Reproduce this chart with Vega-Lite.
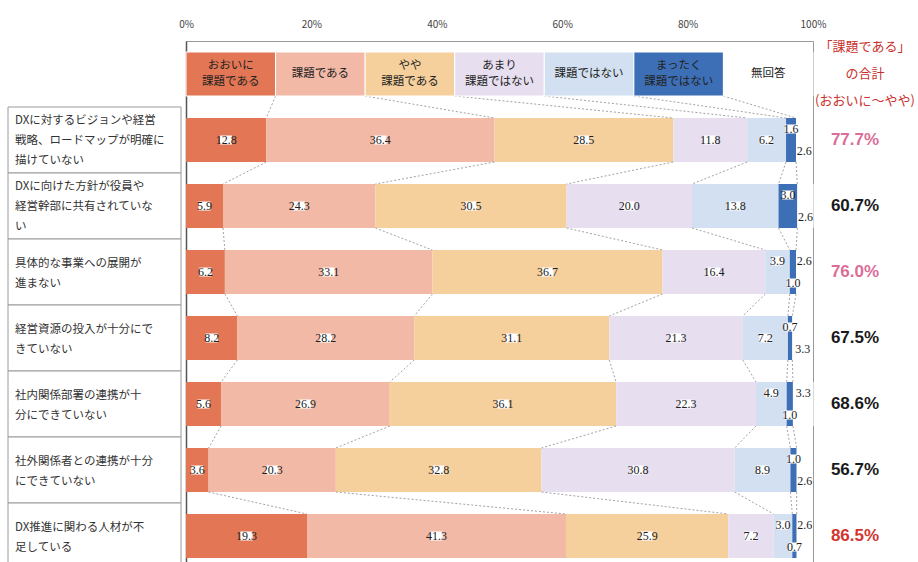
{
  "$schema": "https://vega.github.io/schema/vega-lite/v6.json",
  "padding": {"left": 7, "top": 18, "right": 27, "bottom": 0},
  "background": "white",
  "bounds": "flush",
  "spacing": 5,
  "resolve": {"scale": {"color": "independent"}},
  "config": {"font": "Noto Sans CJK JP", "view": {"stroke": null}},
  "datasets": {
    "segs": [
      {"seg": "おおいに課題である", "label": "おおいに\n課題である"},
      {"seg": "課題である", "label": "課題である"},
      {"seg": "やや課題である", "label": "やや\n課題である"},
      {"seg": "あまり課題ではない", "label": "あまり\n課題ではない"},
      {"seg": "課題ではない", "label": "課題ではない"},
      {"seg": "まったく課題ではない", "label": "まったく\n課題ではない"},
      {"seg": "無回答", "label": "無回答"}
    ],
    "rows": [
      {"cat": "DXに対するビジョンや経営\n戦略、ロードマップが明確に\n描けていない", "total": 0.777},
      {"cat": "DXに向けた方針が役員や\n経営幹部に共有されていな\nい", "total": 0.607},
      {"cat": "具体的な事業への展開が\n進まない", "total": 0.760},
      {"cat": "経営資源の投入が十分にで\nきていない", "total": 0.675},
      {"cat": "社内関係部署の連携が十\n分にできていない", "total": 0.686},
      {"cat": "社外関係者との連携が十分\nにできていない", "total": 0.567},
      {"cat": "DX推進に関わる人材が不\n足している", "total": 0.865}
    ],
    "bars": [
      {"cat": "DXに対するビジョンや経営\n戦略、ロードマップが明確に\n描けていない", "seg": "おおいに課題である", "value": 12.8},
      {"cat": "DXに対するビジョンや経営\n戦略、ロードマップが明確に\n描けていない", "seg": "課題である", "value": 36.4},
      {"cat": "DXに対するビジョンや経営\n戦略、ロードマップが明確に\n描けていない", "seg": "やや課題である", "value": 28.5},
      {"cat": "DXに対するビジョンや経営\n戦略、ロードマップが明確に\n描けていない", "seg": "あまり課題ではない", "value": 11.8},
      {"cat": "DXに対するビジョンや経営\n戦略、ロードマップが明確に\n描けていない", "seg": "課題ではない", "value": 6.2},
      {"cat": "DXに対するビジョンや経営\n戦略、ロードマップが明確に\n描けていない", "seg": "まったく課題ではない", "value": 1.6},
      {"cat": "DXに対するビジョンや経営\n戦略、ロードマップが明確に\n描けていない", "seg": "無回答", "value": 2.6},
      {"cat": "DXに向けた方針が役員や\n経営幹部に共有されていな\nい", "seg": "おおいに課題である", "value": 5.9},
      {"cat": "DXに向けた方針が役員や\n経営幹部に共有されていな\nい", "seg": "課題である", "value": 24.3},
      {"cat": "DXに向けた方針が役員や\n経営幹部に共有されていな\nい", "seg": "やや課題である", "value": 30.5},
      {"cat": "DXに向けた方針が役員や\n経営幹部に共有されていな\nい", "seg": "あまり課題ではない", "value": 20.0},
      {"cat": "DXに向けた方針が役員や\n経営幹部に共有されていな\nい", "seg": "課題ではない", "value": 13.8},
      {"cat": "DXに向けた方針が役員や\n経営幹部に共有されていな\nい", "seg": "まったく課題ではない", "value": 3.0},
      {"cat": "DXに向けた方針が役員や\n経営幹部に共有されていな\nい", "seg": "無回答", "value": 2.6},
      {"cat": "具体的な事業への展開が\n進まない", "seg": "おおいに課題である", "value": 6.2},
      {"cat": "具体的な事業への展開が\n進まない", "seg": "課題である", "value": 33.1},
      {"cat": "具体的な事業への展開が\n進まない", "seg": "やや課題である", "value": 36.7},
      {"cat": "具体的な事業への展開が\n進まない", "seg": "あまり課題ではない", "value": 16.4},
      {"cat": "具体的な事業への展開が\n進まない", "seg": "課題ではない", "value": 3.9},
      {"cat": "具体的な事業への展開が\n進まない", "seg": "まったく課題ではない", "value": 1.0},
      {"cat": "具体的な事業への展開が\n進まない", "seg": "無回答", "value": 2.6},
      {"cat": "経営資源の投入が十分にで\nきていない", "seg": "おおいに課題である", "value": 8.2},
      {"cat": "経営資源の投入が十分にで\nきていない", "seg": "課題である", "value": 28.2},
      {"cat": "経営資源の投入が十分にで\nきていない", "seg": "やや課題である", "value": 31.1},
      {"cat": "経営資源の投入が十分にで\nきていない", "seg": "あまり課題ではない", "value": 21.3},
      {"cat": "経営資源の投入が十分にで\nきていない", "seg": "課題ではない", "value": 7.2},
      {"cat": "経営資源の投入が十分にで\nきていない", "seg": "まったく課題ではない", "value": 0.7},
      {"cat": "経営資源の投入が十分にで\nきていない", "seg": "無回答", "value": 3.3},
      {"cat": "社内関係部署の連携が十\n分にできていない", "seg": "おおいに課題である", "value": 5.6},
      {"cat": "社内関係部署の連携が十\n分にできていない", "seg": "課題である", "value": 26.9},
      {"cat": "社内関係部署の連携が十\n分にできていない", "seg": "やや課題である", "value": 36.1},
      {"cat": "社内関係部署の連携が十\n分にできていない", "seg": "あまり課題ではない", "value": 22.3},
      {"cat": "社内関係部署の連携が十\n分にできていない", "seg": "課題ではない", "value": 4.9},
      {"cat": "社内関係部署の連携が十\n分にできていない", "seg": "まったく課題ではない", "value": 1.0},
      {"cat": "社内関係部署の連携が十\n分にできていない", "seg": "無回答", "value": 3.3},
      {"cat": "社外関係者との連携が十分\nにできていない", "seg": "おおいに課題である", "value": 3.6},
      {"cat": "社外関係者との連携が十分\nにできていない", "seg": "課題である", "value": 20.3},
      {"cat": "社外関係者との連携が十分\nにできていない", "seg": "やや課題である", "value": 32.8},
      {"cat": "社外関係者との連携が十分\nにできていない", "seg": "あまり課題ではない", "value": 30.8},
      {"cat": "社外関係者との連携が十分\nにできていない", "seg": "課題ではない", "value": 8.9},
      {"cat": "社外関係者との連携が十分\nにできていない", "seg": "まったく課題ではない", "value": 1.0},
      {"cat": "社外関係者との連携が十分\nにできていない", "seg": "無回答", "value": 2.6},
      {"cat": "DX推進に関わる人材が不\n足している", "seg": "おおいに課題である", "value": 19.3},
      {"cat": "DX推進に関わる人材が不\n足している", "seg": "課題である", "value": 41.3},
      {"cat": "DX推進に関わる人材が不\n足している", "seg": "やや課題である", "value": 25.9},
      {"cat": "DX推進に関わる人材が不\n足している", "seg": "あまり課題ではない", "value": 7.2},
      {"cat": "DX推進に関わる人材が不\n足している", "seg": "課題ではない", "value": 3.0},
      {"cat": "DX推進に関わる人材が不\n足している", "seg": "まったく課題ではない", "value": 0.7},
      {"cat": "DX推進に関わる人材が不\n足している", "seg": "無回答", "value": 2.6}
    ]
  },
  "hconcat": [
    {
      "width": 173,
      "height": 528,
      "data": {"name": "rows"},
      "layer": [
        {
          "mark": {"type": "rect", "fill": "white", "stroke": "#9a9a9a", "strokeWidth": 1},
          "encoding": {
            "y": {"field": "cat", "type": "nominal", "scale": {"domain": ["凡例", "DXに対するビジョンや経営\n戦略、ロードマップが明確に\n描けていない", "DXに向けた方針が役員や\n経営幹部に共有されていな\nい", "具体的な事業への展開が\n進まない", "経営資源の投入が十分にで\nきていない", "社内関係部署の連携が十\n分にできていない", "社外関係者との連携が十分\nにできていない", "DX推進に関わる人材が不\n足している"], "paddingInner": 0, "paddingOuter": 0}, "axis": null},
            "x": {"datum": 0, "type": "quantitative", "scale": {"domain": [0, 1], "nice": false}, "axis": null},
            "x2": {"datum": 1}
          }
        },
        {
          "transform": [{"filter": "split(datum.cat, '\\n').length == 3"}],
          "mark": {"type": "text", "align": "left", "baseline": "middle", "dx": 7, "dy": -19, "fontSize": 11.5, "lineHeight": 20, "lineBreak": "\n", "color": "#333333"},
          "encoding": {
            "y": {"field": "cat", "type": "nominal", "scale": {"domain": ["凡例", "DXに対するビジョンや経営\n戦略、ロードマップが明確に\n描けていない", "DXに向けた方針が役員や\n経営幹部に共有されていな\nい", "具体的な事業への展開が\n進まない", "経営資源の投入が十分にで\nきていない", "社内関係部署の連携が十\n分にできていない", "社外関係者との連携が十分\nにできていない", "DX推進に関わる人材が不\n足している"], "paddingInner": 0, "paddingOuter": 0}, "axis": null},
            "x": {"datum": 0, "type": "quantitative", "scale": {"domain": [0, 1], "nice": false}, "axis": null},
            "text": {"field": "cat"}
          }
        },
        {
          "transform": [{"filter": "split(datum.cat, '\\n').length == 2"}],
          "mark": {"type": "text", "align": "left", "baseline": "middle", "dx": 7, "dy": -8, "fontSize": 11.5, "lineHeight": 20, "lineBreak": "\n", "color": "#333333"},
          "encoding": {
            "y": {"field": "cat", "type": "nominal", "scale": {"domain": ["凡例", "DXに対するビジョンや経営\n戦略、ロードマップが明確に\n描けていない", "DXに向けた方針が役員や\n経営幹部に共有されていな\nい", "具体的な事業への展開が\n進まない", "経営資源の投入が十分にで\nきていない", "社内関係部署の連携が十\n分にできていない", "社外関係者との連携が十分\nにできていない", "DX推進に関わる人材が不\n足している"], "paddingInner": 0, "paddingOuter": 0}, "axis": null},
            "x": {"datum": 0, "type": "quantitative", "scale": {"domain": [0, 1], "nice": false}, "axis": null},
            "text": {"field": "cat"}
          }
        }
      ]
    },
    {
      "width": 627,
      "height": 528,
      "view": {"stroke": "#9a9a9a"},
      "encoding": {
        "y": {"field": "cat", "type": "nominal", "scale": {"domain": ["凡例", "DXに対するビジョンや経営\n戦略、ロードマップが明確に\n描けていない", "DXに向けた方針が役員や\n経営幹部に共有されていな\nい", "具体的な事業への展開が\n進まない", "経営資源の投入が十分にで\nきていない", "社内関係部署の連携が十\n分にできていない", "社外関係者との連携が十分\nにできていない", "DX推進に関わる人材が不\n足している"], "paddingInner": 0.3333, "paddingOuter": 0.1667}, "axis": {"title": null, "labels": false, "ticks": false, "domainColor": "#555555", "domainWidth": 1.5}}
      },
      "layer": [
        {
          "data": {"name": "bars"},
          "transform": [
            {"window": [{"op": "row_number", "as": "o"}], "groupby": ["cat"]},
            {"stack": "value", "groupby": ["cat"], "sort": [{"field": "o", "order": "ascending"}], "as": ["x0", "x1"]},
            {"window": [{"op": "lag", "field": "value", "param": 1, "as": "lag1"}, {"op": "lag", "field": "value", "param": 2, "as": "lag2"}], "groupby": ["cat"], "sort": [{"field": "o", "order": "ascending"}]},
            {"calculate": "(datum.x0 + datum.x1) / 2", "as": "mid"}
          ],
          "layer": [
            {
              "mark": {"type": "bar"},
              "encoding": {
                "x": {"field": "x0", "type": "quantitative", "scale": {"domain": [0, 100], "nice": false, "zero": false}, "axis": {"orient": "top", "values": [0, 20, 40, 60, 80, 100], "labelExpr": "datum.value + '%'", "grid": false, "ticks": false, "domain": false, "labelFlush": false, "labelFontSize": 10, "labelPadding": 12, "labelColor": "#444444", "title": null}},
                "x2": {"field": "x1"},
                "color": {"field": "seg", "type": "nominal", "scale": {"domain": ["おおいに課題である", "課題である", "やや課題である", "あまり課題ではない", "課題ではない", "まったく課題ではない", "無回答"], "range": ["#E27655", "#F2B9A6", "#F5CF9C", "#E7DFF0", "#D3E0F1", "#3D6FB6", "#FFFFFF"]}, "legend": null}
              }
            },
            {
              "transform": [
                {"filter": "datum.o <= 6"},
                {"window": [{"op": "lead", "field": "x1", "as": "nx"}, {"op": "lead", "field": "cat", "as": "ncat"}], "groupby": ["o"]},
                {"filter": "datum.ncat != null"}
              ],
              "mark": {"type": "rule", "stroke": "#8a8a8a", "strokeWidth": 0.8, "strokeDash": [2, 2]},
              "encoding": {
                "x": {"field": "x1", "type": "quantitative"},
                "x2": {"field": "nx"},
                "y": {"field": "cat", "type": "nominal", "bandPosition": 1},
                "y2": {"field": "ncat", "bandPosition": 0}
              }
            },
            {
              "transform": [
                {"filter": "datum.o <= 6"},
                {"window": [{"op": "row_number", "as": "ri"}], "groupby": ["o"]},
                {"filter": "datum.ri == 1"},
                {"calculate": "datum.o * 100 / 7", "as": "lx"}
              ],
              "mark": {"type": "rule", "stroke": "#8a8a8a", "strokeWidth": 0.8, "strokeDash": [2, 2]},
              "encoding": {
                "x": {"field": "lx", "type": "quantitative"},
                "x2": {"field": "x1"},
                "y": {"datum": "凡例", "type": "nominal", "bandPosition": 1},
                "y2": {"field": "cat", "bandPosition": 0}
              }
            },
            {
              "transform": [{"filter": "datum.o <= 4 || (datum.o == 5 && datum.value >= 5)"}],
              "encoding": {
                "x": {"field": "mid", "type": "quantitative"}
              },
              "layer": [
                {"mark": {"type": "point", "shape": "M-1.35,-1H1.35V1H-1.35Z", "size": 81, "filled": true, "color": "white", "opacity": 1, "strokeWidth": 0}},
                {"mark": {"type": "text", "fontSize": 12, "font": "Liberation Sans Narrow", "color": "#222222"}, "encoding": {"text": {"field": "value", "type": "quantitative", "format": ".1f"}}}
              ]
            },
            {
              "transform": [{"filter": "(datum.o == 5 && datum.value < 5) || (datum.o == 6 && datum.lag1 >= 5) || (datum.o == 7 && datum.lag2 < 5)"}],
              "encoding": {
                "x": {"field": "mid", "type": "quantitative"}
              },
              "layer": [
                {"mark": {"type": "point", "shape": "M-1.25,-1H1.25V1H-1.25Z", "size": 81, "filled": true, "color": "white", "opacity": 1, "strokeWidth": 0, "yOffset": -11}},
                {"mark": {"type": "text", "fontSize": 12, "font": "Liberation Sans Narrow", "color": "#222222", "yOffset": -11}, "encoding": {"text": {"field": "value", "type": "quantitative", "format": ".1f"}}}
              ]
            },
            {
              "transform": [{"filter": "(datum.o == 6 && datum.lag1 < 5) || (datum.o == 7 && datum.lag2 >= 5)"}],
              "encoding": {
                "x": {"field": "mid", "type": "quantitative"}
              },
              "layer": [
                {"mark": {"type": "point", "shape": "M-1.25,-1H1.25V1H-1.25Z", "size": 81, "filled": true, "color": "white", "opacity": 1, "strokeWidth": 0, "yOffset": 11}},
                {"mark": {"type": "text", "fontSize": 12, "font": "Liberation Sans Narrow", "color": "#222222", "yOffset": 11}, "encoding": {"text": {"field": "value", "type": "quantitative", "format": ".1f"}}}
              ]
            }
          ]
        },
        {
          "data": {"name": "segs"},
          "transform": [
            {"window": [{"op": "row_number", "as": "o"}]},
            {"calculate": "(datum.o - 1) * 100 / 7", "as": "lx0"},
            {"calculate": "datum.o * 100 / 7", "as": "lx1"},
            {"calculate": "(datum.o - 0.5) * 100 / 7", "as": "lxm"}
          ],
          "layer": [
            {
              "mark": {"type": "bar", "stroke": "white", "strokeWidth": 1},
              "encoding": {
                "x": {"field": "lx0", "type": "quantitative"},
                "x2": {"field": "lx1"},
                "y": {"datum": "凡例", "type": "nominal"},
                "color": {"field": "seg", "type": "nominal", "scale": {"domain": ["おおいに課題である", "課題である", "やや課題である", "あまり課題ではない", "課題ではない", "まったく課題ではない", "無回答"], "range": ["#E27655", "#F2B9A6", "#F5CF9C", "#E7DFF0", "#D3E0F1", "#3D6FB6", "#FFFFFF"]}, "legend": null}
              }
            },
            {
              "transform": [{"filter": "indexof(datum.label, '\\n') >= 0"}],
              "mark": {"type": "text", "fontSize": 11.5, "lineHeight": 16, "lineBreak": "\n", "color": "#222222", "dy": -8},
              "encoding": {
                "x": {"field": "lxm", "type": "quantitative"},
                "y": {"datum": "凡例", "type": "nominal"},
                "text": {"field": "label"}
              }
            },
            {
              "transform": [{"filter": "indexof(datum.label, '\\n') < 0"}],
              "mark": {"type": "text", "fontSize": 11.5, "color": "#222222"},
              "encoding": {
                "x": {"field": "lxm", "type": "quantitative"},
                "y": {"datum": "凡例", "type": "nominal"},
                "text": {"field": "label"}
              }
            }
          ]
        }
      ]
    },
    {
      "width": 74,
      "height": 528,
      "layer": [
        {
          "data": {"name": "rows"},
          "transform": [{"window": [{"op": "rank", "as": "r"}], "sort": [{"field": "total", "order": "descending"}]}],
          "mark": {"type": "text", "fontSize": 17, "fontWeight": "bold", "font": "Liberation Sans"},
          "encoding": {
            "y": {"field": "cat", "type": "nominal", "scale": {"domain": ["凡例", "DXに対するビジョンや経営\n戦略、ロードマップが明確に\n描けていない", "DXに向けた方針が役員や\n経営幹部に共有されていな\nい", "具体的な事業への展開が\n進まない", "経営資源の投入が十分にで\nきていない", "社内関係部署の連携が十\n分にできていない", "社外関係者との連携が十分\nにできていない", "DX推進に関わる人材が不\n足している"], "paddingInner": 0.3333, "paddingOuter": 0.1667}, "axis": null},
            "text": {"field": "total", "type": "quantitative", "format": ".1%"},
            "color": {"field": "r", "type": "ordinal", "scale": {"domain": [1, 2, 3, 4, 5, 6, 7], "range": ["#D2352E", "#DB6E98", "#DB6E98", "#1A1A1A", "#1A1A1A", "#1A1A1A", "#1A1A1A"]}, "legend": null}
          }
        },
        {
          "data": {"values": [{"t": "「課題である」\nの合計\n(おおいに～やや)"}]},
          "mark": {"type": "text", "fontSize": 13, "lineHeight": 27, "lineBreak": "\n", "color": "#C9302C", "dx": 10, "dy": -27},
          "encoding": {
            "y": {"datum": "凡例", "type": "nominal", "scale": {"domain": ["凡例", "DXに対するビジョンや経営\n戦略、ロードマップが明確に\n描けていない", "DXに向けた方針が役員や\n経営幹部に共有されていな\nい", "具体的な事業への展開が\n進まない", "経営資源の投入が十分にで\nきていない", "社内関係部署の連携が十\n分にできていない", "社外関係者との連携が十分\nにできていない", "DX推進に関わる人材が不\n足している"], "paddingInner": 0.3333, "paddingOuter": 0.1667}, "axis": null},
            "text": {"field": "t"}
          }
        }
      ]
    }
  ]
}
